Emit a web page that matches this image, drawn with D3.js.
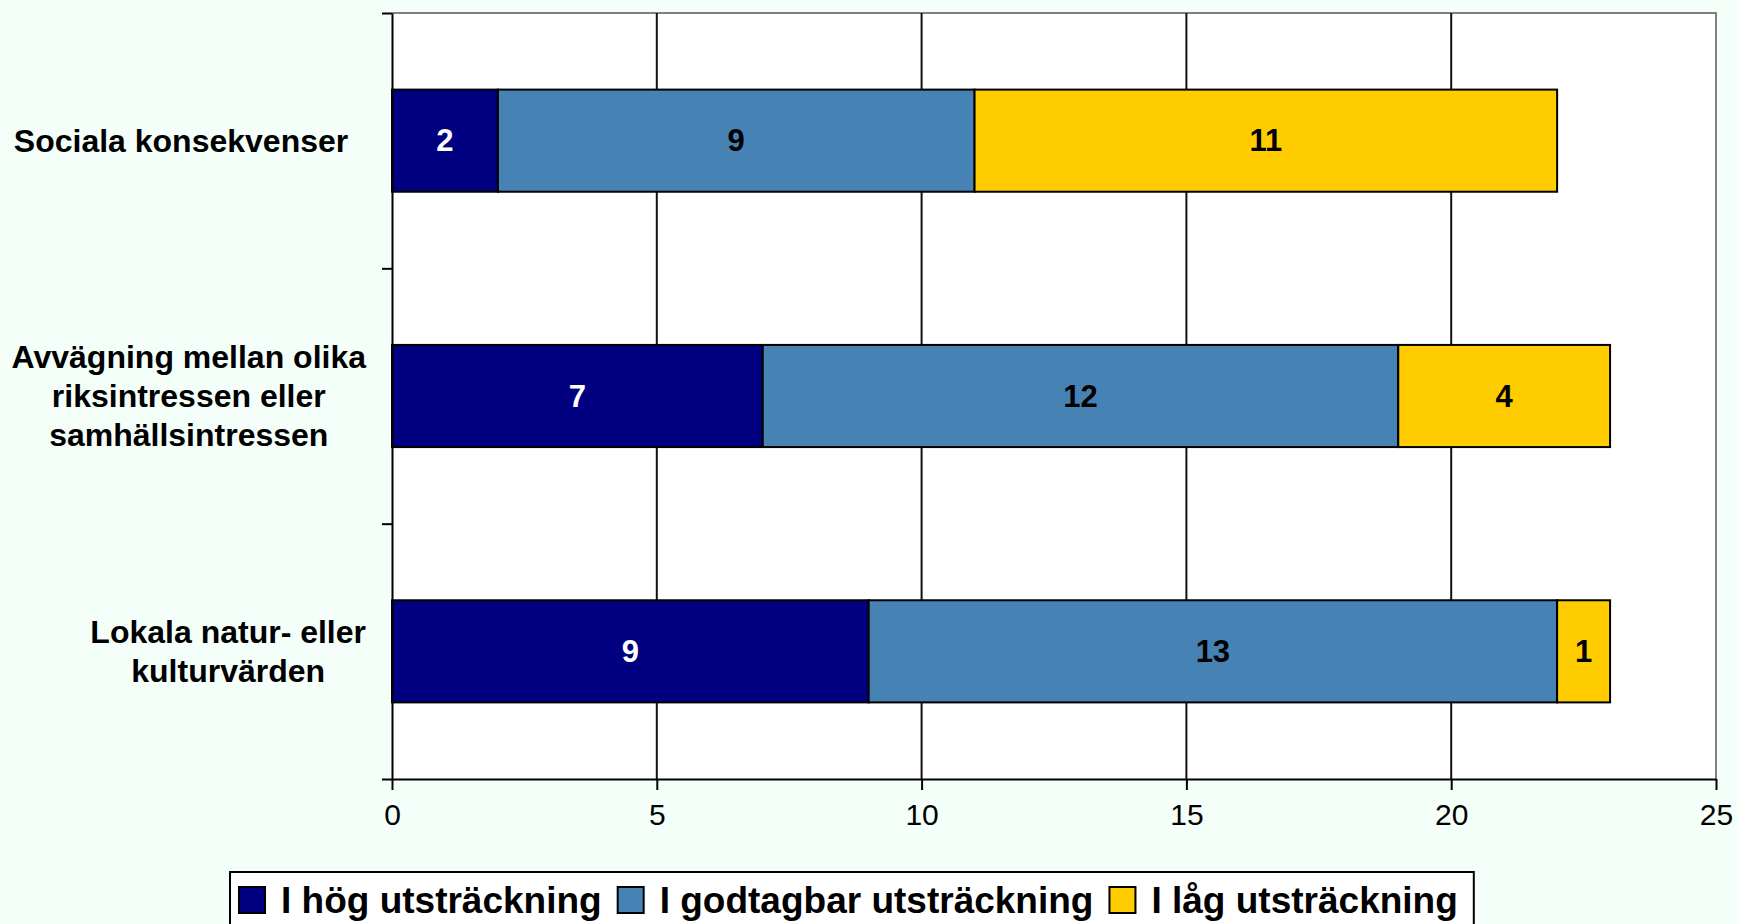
<!DOCTYPE html>
<html><head><meta charset="utf-8">
<script src="https://cdn.jsdelivr.net/npm/d3@7"></script>
<style>
html,body{margin:0;padding:0;background:#F5FFFA;overflow:hidden;}
svg{display:block;font-family:"Liberation Sans",Arial,Helvetica,sans-serif;}
</style></head><body>
<svg id="chart" width="1740" height="924"></svg>
<script>
// ---- data ----
const categories = ["Sociala konsekvenser", "Avvägning mellan olika riksintressen eller samhällsintressen", "Lokala natur- eller kulturvärden"];
const categoryLines = [["Sociala konsekvenser\u00a0\u00a0"], ["Avvägning mellan olika", "riksintressen eller", "samhällsintressen"], ["Lokala natur- eller", "kulturvärden"]];
const seriesNames = ["I hög utsträckning", "I godtagbar utsträckning", "I låg utsträckning"];
const hog = [2, 7, 9];
const godtagbar = [9, 12, 13];
const lag = [11, 4, 1];
const xTicks = [0, 5, 10, 15, 20, 25];
const colors = ["#000080", "#4682B4", "#FFCC00"];
const labelColors = ["#ffffff", "#000000", "#000000"];

// ---- layout ----
const W = 1740, H = 924;
const plot = {left: 392, right: 1716, top: 13, bottom: 779};
const svg = d3.select("#chart");

const rows = categories.map((c, i) => ({cat: c, [seriesNames[0]]: hog[i], [seriesNames[1]]: godtagbar[i], [seriesNames[2]]: lag[i]}));
const stack = d3.stack().keys(seriesNames)(rows);

const x = d3.scaleLinear().domain([0, 25]).range([plot.left, plot.right]);
const y = d3.scaleBand().domain(categories).range([plot.top, plot.bottom]).paddingInner(0.6).paddingOuter(0.3);
const yEdge = d3.scaleLinear().domain([0, categories.length]).range([plot.top, plot.bottom]);

// plot background
svg.append("rect").attr("x", plot.left).attr("y", plot.top)
  .attr("width", plot.right - plot.left).attr("height", plot.bottom - plot.top)
  .attr("fill", "#ffffff");

// frame top/right (gray)
svg.append("path")
  .attr("d", `M${plot.left},${plot.top}H${plot.right}V${plot.bottom}`)
  .attr("fill", "none").attr("stroke", "#808080").attr("stroke-width", 2);

// vertical gridlines
svg.append("g").selectAll("line").data(xTicks.filter(t => t > 0 && t < 25)).join("line")
  .attr("x1", d => x(d)).attr("x2", d => x(d))
  .attr("y1", plot.top).attr("y2", plot.bottom)
  .attr("stroke", "#111").attr("stroke-width", 2);

// bars
const layers = svg.append("g").selectAll("g").data(stack).join("g")
  .attr("fill", (d, i) => colors[i]);
layers.selectAll("rect").data(d => d).join("rect")
  .attr("x", d => x(d[0])).attr("width", d => x(d[1]) - x(d[0]))
  .attr("y", d => y(d.data.cat)).attr("height", y.bandwidth())
  .attr("stroke", "#000").attr("stroke-width", 2);

// value labels
stack.forEach((layer, si) => {
  svg.append("g").selectAll("text").data(layer).join("text")
    .attr("x", d => (x(d[0]) + x(d[1])) / 2)
    .attr("y", d => y(d.data.cat) + y.bandwidth() / 2)
    .attr("text-anchor", "middle").attr("dominant-baseline", "central")
    .attr("font-size", 31).attr("font-weight", "bold")
    .attr("fill", labelColors[si])
    .text(d => d[1] - d[0]);
});

// x axis
const xAxis = svg.append("g").attr("transform", `translate(0,${plot.bottom})`)
  .call(d3.axisBottom(x).tickValues(xTicks).tickSize(11).tickPadding(14).tickSizeOuter(0));
xAxis.select(".domain").attr("stroke", "#000").attr("stroke-width", 2);
xAxis.selectAll(".tick line").attr("stroke", "#000").attr("stroke-width", 2);
xAxis.selectAll(".tick text").attr("font-size", 30).attr("fill", "#000")
  .attr("font-family", "'Liberation Sans',Arial,sans-serif");

// y axis
const yAxis = svg.append("g").attr("transform", `translate(${plot.left},0)`)
  .call(d3.axisLeft(yEdge).tickValues(d3.range(categories.length + 1)).tickSize(10).tickFormat("").tickSizeOuter(0));
yAxis.select(".domain").attr("stroke", "#000").attr("stroke-width", 2);
yAxis.selectAll(".tick line").attr("stroke", "#000").attr("stroke-width", 2);

// category labels (centered blocks, right-aligned)
const labelRight = 366, lineH = 39;
categories.forEach((c, i) => {
  const lines = categoryLines[i];
  const g = svg.append("g");
  const texts = g.selectAll("text").data(lines).join("text")
    .attr("font-size", 32).attr("font-weight", "bold").attr("fill", "#000")
    .attr("text-anchor", "middle").attr("dominant-baseline", "central")
    .style("white-space", "pre")
    .attr("y", (d, j) => y(c) + y.bandwidth() / 2 + (j - (lines.length - 1) / 2) * lineH)
    .text(d => d);
  let maxW = 0;
  texts.each(function () { maxW = Math.max(maxW, this.getComputedTextLength()); });
  texts.attr("x", labelRight - maxW / 2);
});

// legend
const leg = svg.append("g");
const legBox = leg.append("rect").attr("x", 230).attr("y", 872).attr("height", 80)
  .attr("fill", "#ffffff").attr("stroke", "#000").attr("stroke-width", 2);
let cx = 239;
seriesNames.forEach((s, i) => {
  leg.append("rect").attr("x", cx).attr("y", 887).attr("width", 26).attr("height", 26)
    .attr("fill", colors[i]).attr("stroke", "#000").attr("stroke-width", 2);
  cx += 26 + 16;
  const t = leg.append("text").attr("x", cx).attr("y", 913)
    .attr("font-size", 37).attr("font-weight", "bold").attr("fill", "#000").text(s);
  cx += t.node().getComputedTextLength() + 16;
});
legBox.attr("width", cx - 230);
</script>
</body></html>
